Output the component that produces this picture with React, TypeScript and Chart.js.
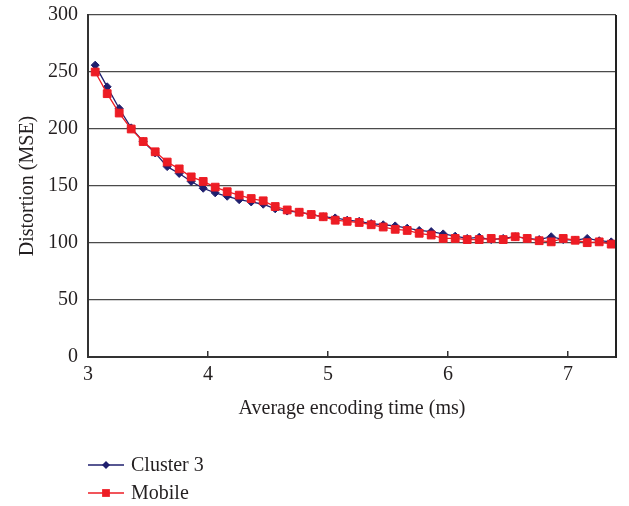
import React, { useEffect, useRef } from "react";
import { Chart, registerables } from "chart.js";

Chart.register(...registerables);

// ---- data ----
const encodingTime = [
  3.06, 3.16, 3.26, 3.36, 3.46, 3.56, 3.66, 3.76, 3.86, 3.96,
  4.06, 4.16, 4.26, 4.36, 4.46, 4.56, 4.66, 4.76, 4.86, 4.96,
  5.06, 5.16, 5.26, 5.36, 5.46, 5.56, 5.66, 5.76, 5.86, 5.96,
  6.06, 6.16, 6.26, 6.36, 6.46, 6.56, 6.66, 6.76, 6.86, 6.96,
  7.06, 7.16, 7.26, 7.36,
];
const cluster3 = [
  256, 237, 218, 201, 189, 179, 167, 161, 154, 148,
  144, 141, 138, 136, 134, 130, 128, 127, 125, 123,
  122, 120, 119, 117, 116, 115, 113, 111, 110, 108,
  106, 104, 105, 103, 104, 105.5, 104, 103, 105.5, 103,
  102.6, 104, 102, 101,
];
const mobile = [
  250, 231, 214, 200, 189, 180, 171, 165, 158, 154,
  149, 145, 142, 139, 137, 132, 129, 127, 125, 123,
  120, 119, 118, 116, 114, 112, 111, 108.5, 107, 104,
  104, 103, 103, 104, 103, 105.5, 104, 102, 101, 104,
  102.4, 100.3, 101, 99,
];
const seriesNames = ["Cluster 3", "Mobile"];
const xAxisTitle = "Average encoding time (ms)";
const yAxisTitle = "Distortion (MSE)";

const FONT = "'Liberation Serif', 'Times New Roman', serif";
const TEXT = "#231f20";
const NAVY = "#1f1f6e";
const RED = "#ed1c24";

const frame = {
  id: "frame",
  afterDatasetsDraw(chart: any) {
    const { ctx, chartArea } = chart;
    ctx.save();
    ctx.strokeStyle = "#222";
    ctx.lineWidth = 2;
    ctx.beginPath();
    ctx.moveTo(chartArea.right, chartArea.top);
    ctx.lineTo(chartArea.right, chartArea.bottom + 1);
    ctx.stroke();
    ctx.restore();
  },
};

const stackedLegend = {
  id: "stackedLegend",
  afterDraw(chart: any) {
    const { ctx, chartArea } = chart;
    const x0 = chartArea.left;
    chart.data.datasets.forEach((ds: any, i: number) => {
      const y = chartArea.bottom + 108 + i * 28;
      ctx.save();
      ctx.strokeStyle = ds.borderColor;
      ctx.lineWidth = ds.borderWidth;
      ctx.beginPath();
      ctx.moveTo(x0, y);
      ctx.lineTo(x0 + 36, y);
      ctx.stroke();
      const cx = x0 + 18;
      ctx.fillStyle = ds.pointBackgroundColor;
      ctx.beginPath();
      if (ds.pointStyle === "rectRot") {
        const r = ds.pointRadius;
        ctx.moveTo(cx, y - r);
        ctx.lineTo(cx + r, y);
        ctx.lineTo(cx, y + r);
        ctx.lineTo(cx - r, y);
        ctx.closePath();
      } else {
        const s = Math.SQRT1_2 * ds.pointRadius;
        ctx.rect(cx - s, y - s, 2 * s, 2 * s);
      }
      ctx.fill();
      ctx.fillStyle = TEXT;
      ctx.font = `20px ${FONT}`;
      ctx.textBaseline = "middle";
      ctx.textAlign = "left";
      ctx.fillText(ds.label, x0 + 43, y + 1);
      ctx.restore();
    });
  },
};

export default function App() {
  const ref = useRef<HTMLCanvasElement | null>(null);

  useEffect(() => {
    if (!ref.current) return;
    const chart = new Chart(ref.current, {
      type: "line",
      data: {
        datasets: [
          {
            label: seriesNames[0],
            data: encodingTime.map((x, i) => ({ x, y: cluster3[i] })),
            borderColor: NAVY,
            backgroundColor: NAVY,
            pointBackgroundColor: NAVY,
            pointBorderColor: NAVY,
            borderWidth: 1.3,
            pointStyle: "rectRot",
            pointRadius: 4,
            pointBorderWidth: 1,
            order: 1,
          },
          {
            label: seriesNames[1],
            data: encodingTime.map((x, i) => ({ x, y: mobile[i] })),
            borderColor: RED,
            backgroundColor: RED,
            pointBackgroundColor: RED,
            pointBorderColor: RED,
            borderWidth: 1.3,
            pointStyle: "rect",
            pointRadius: 5.5,
            pointBorderWidth: 1,
            order: 0,
          },
        ],
      },
      options: {
        responsive: false,
        animation: false,
        devicePixelRatio: 1,
        layout: { padding: { top: 15, right: 13, bottom: 79, left: 0 } },
        plugins: { legend: { display: false }, tooltip: { enabled: false } },
        scales: {
          x: {
            type: "linear",
            min: 3,
            max: 7.4,
            ticks: {
              stepSize: 1,
              includeBounds: false,
              padding: 12,
              color: TEXT,
              font: { family: FONT, size: 20 },
            },
            grid: {
              drawOnChartArea: false,
              drawTicks: true,
              tickLength: -6,
              color: "#333",
              lineWidth: 1.5,
            },
            border: { color: "#333", width: 2 },
            title: {
              display: true,
              text: xAxisTitle,
              color: TEXT,
              font: { family: FONT, size: 20 },
              padding: { top: 0, bottom: 6 },
            },
            afterFit: (s: any) => {
              s.height = 70;
              s.paddingLeft = 0;
              s.paddingRight = 0;
            },
          },
          y: {
            min: 0,
            max: 300,
            ticks: {
              stepSize: 50,
              padding: 10,
              color: TEXT,
              font: { family: FONT, size: 20 },
            },
            grid: { color: "#4a4a4a", lineWidth: 1.3, drawTicks: false },
            border: { color: "#333", width: 2 },
            title: {
              display: true,
              text: yAxisTitle,
              color: TEXT,
              font: { family: FONT, size: 20 },
              padding: { top: 16, bottom: 0 },
            },
            afterFit: (s: any) => {
              s.width = 88;
              s.paddingTop = 0;
              s.paddingBottom = 0;
            },
          },
        },
      },
      plugins: [frame, stackedLegend],
    });
    return () => chart.destroy();
  }, []);

  return (
    <div style={{ position: "fixed", left: 0, top: 0, width: 629, height: 506, background: "#fff" }}>
      <canvas ref={ref} width={629} height={506} />
    </div>
  );
}
